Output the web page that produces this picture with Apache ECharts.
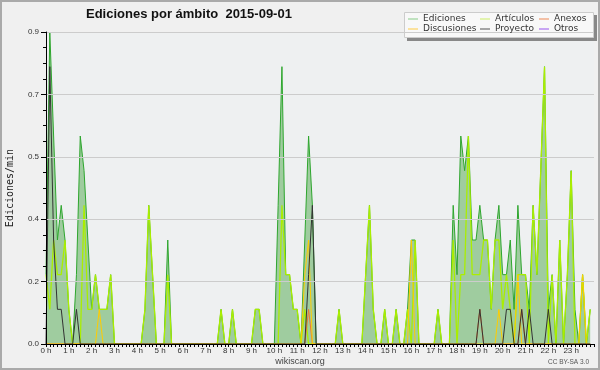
<!DOCTYPE html>
<html>
<head>
<meta charset="utf-8">
<script src="https://cdn.jsdelivr.net/npm/echarts@6/dist/echarts.min.js"></script>
<style>html,body{margin:0;padding:0;background:#f0f0f0}#c{width:600px;height:370px}</style>
</head>
<body>
<div id="c"></div>
<script>
// 10-minute bins, 144 per day (edits per minute)
var ediciones = [
0.2,0.9,0.6,0.3,0.4,0.3,0.1,0,0.2,0.6,
0.5,0.3,0.1,0.2,0.1,0.1,0.1,0.2,0,0,
0,0,0,0,0,0,0.1,0.4,0.2,0,
0,0,0.3,0,0,0,0,0,0,0,
0,0,0,0,0,0,0.1,0,0,0.1,
0,0,0,0,0,0.1,0.1,0,0,0,
0,0.4,0.8,0.2,0.2,0.1,0.1,0,0.3,0.6,
0.4,0,0,0,0,0,0,0.1,0,0,
0,0,0,0,0.2,0.4,0.1,0,0,0.1,
0,0,0.1,0,0,0.1,0.3,0.3,0,0,
0,0,0,0.1,0,0,0,0.4,0.2,0.6,
0.5,0.6,0.3,0.3,0.4,0.3,0.3,0.1,0.3,0.4,
0.2,0.2,0.3,0.1,0.4,0.2,0.2,0.1,0.4,0.2,
0.5,0.8,0.1,0.2,0,0.3,0,0.2,0.5,0.1,
0,0.2,0,0.1
];
var articulos = [
0.2,0.1,0.3,0.2,0.2,0.3,0.1,0,0,0,
0.4,0.1,0.1,0.2,0.1,0.1,0.1,0.2,0,0,
0,0,0,0,0,0,0.1,0.4,0.2,0,
0,0,0.2,0,0,0,0,0,0,0,
0,0,0,0,0,0,0.1,0,0,0.1,
0,0,0,0,0,0.1,0.1,0,0,0,
0,0,0.4,0.2,0.2,0.1,0.1,0,0.1,0,
0,0,0,0,0,0,0,0.1,0,0,
0,0,0,0,0.2,0.4,0.1,0,0,0.1,
0,0,0.1,0,0,0.1,0,0.3,0,0,
0,0,0,0.1,0,0,0,0.3,0,0.2,
0.2,0.6,0.2,0.2,0.2,0.3,0.3,0.1,0.3,0.3,
0.1,0.2,0.1,0,0.2,0.2,0.2,0,0.4,0.2,
0.5,0.8,0,0.2,0,0.3,0,0.2,0.5,0,
0,0.2,0,0.1
];
var anexos = [
0,0,0,0,0,0,0,0,0,0,
0,0,0,0,0,0,0,0,0,0,
0,0,0,0,0,0,0,0,0,0,
0,0,0,0,0,0,0,0,0,0,
0,0,0,0,0,0,0,0,0,0,
0,0,0,0,0,0,0,0,0,0,
0,0,0,0,0,0,0,0,0,0.1,
0,0,0,0,0,0,0,0,0,0,
0,0,0,0,0,0,0,0,0,0,
0,0,0,0,0,0,0,0,0,0,
0,0,0,0,0,0,0,0,0,0,
0,0,0,0,0.1,0,0,0,0,0,
0,0,0,0,0,0.1,0,0,0,0,
0,0,0,0,0,0,0,0,0,0,
0,0,0,0
];
var discusiones = [
0,0,0,0,0,0,0,0,0,0,
0,0,0,0,0.1,0,0,0,0,0,
0,0,0,0,0,0,0,0,0,0,
0,0,0,0,0,0,0,0,0,0,
0,0,0,0,0,0,0,0,0,0,
0,0,0,0,0,0,0,0,0,0,
0,0,0,0,0,0,0,0,0.2,0.3,
0,0,0,0,0,0,0,0,0,0,
0,0,0,0,0,0,0,0,0,0,
0,0,0,0,0,0,0.3,0,0,0,
0,0,0,0,0,0,0,0,0,0,
0,0,0,0,0,0,0,0,0,0.1,
0,0,0,0,0.2,0,0,0,0,0,
0,0,0,0,0,0,0,0,0,0,
0,0.2,0,0
];
var proyecto = [
0,0.8,0.3,0.1,0.1,0,0,0,0.1,0,
0,0,0,0,0,0,0,0,0,0,
0,0,0,0,0,0,0,0,0,0,
0,0,0,0,0,0,0,0,0,0,
0,0,0,0,0,0,0,0,0,0,
0,0,0,0,0,0,0,0,0,0,
0,0,0,0,0,0,0,0,0,0.2,
0.4,0,0,0,0,0,0,0,0,0,
0,0,0,0,0,0,0,0,0,0,
0,0,0,0,0,0,0,0,0,0,
0,0,0,0,0,0,0,0,0,0,
0,0,0,0,0.1,0,0,0,0,0,
0,0.1,0.1,0,0,0.1,0,0.1,0,0,
0,0,0.1,0,0,0,0,0,0,0,
0,0,0,0
];
var otros = [
0,0,0,0,0,0,0,0,0,0,
0,0,0,0,0,0,0,0,0,0,
0,0,0,0,0,0,0,0,0,0,
0,0,0,0,0,0,0,0,0,0,
0,0,0,0,0,0,0,0,0,0,
0,0,0,0,0,0,0,0,0,0,
0,0,0,0,0,0,0,0,0,0,
0,0,0,0,0,0,0,0,0,0,
0,0,0,0,0,0,0,0,0,0,
0,0,0,0,0,0,0,0,0,0,
0,0,0,0,0,0,0,0,0,0,
0,0,0,0,0,0,0,0,0,0,
0,0,0,0,0,0,0,0,0,0,
0,0,0,0,0,0,0,0,0,0,
0,0,0,0
];
var binsPerHour = 6;
var yTickStep = 0.18;
var titleText = 'Ediciones por ámbito  2015-09-01';

function toXY(arr){ return arr.map(function(v,i){ return [i/binsPerHour, v]; }); }

var chart = echarts.init(document.getElementById('c'), null, {renderer:'canvas'});
var lab = {fontFamily:'Liberation Sans', fontSize:8, color:'#333'};
function lineSeries(name, data, color, width, z){
  return {name:name, type:'line', data:toXY(data), symbol:'none', z:z,
    lineStyle:{color:color, width:width}, itemStyle:{color:color}, animation:false};
}
var legText = {fontFamily:'DejaVu Sans', fontSize:9, color:'#333', lineHeight:10};
function leg(left, items){
  return {left:left, top:14, orient:'vertical', padding:0, itemGap:0, itemWidth:10, itemHeight:1,
    icon:'rect', selectedMode:false, textStyle:legText, z:10,
    data: items.map(function(it){ return {name:it[0], itemStyle:{color:it[1]}}; })};
}
var option = {
  backgroundColor:'#f0f0f0',
  animation:false,
  grid:{left:46, right:6, top:32, bottom:26, containLabel:false, outerBoundsMode:'none',
    show:true, backgroundColor:'#eef0f1', borderWidth:0},
  xAxis:{type:'value', min:0, max:24, interval:1, z:10,
    axisLine:{show:true, onZero:false, lineStyle:{color:'#000', width:1}},
    axisTick:{show:true, length:3, lineStyle:{color:'#000'}},
    minorTick:{show:true, splitNumber:6, length:3, lineStyle:{color:'#000'}},
    splitLine:{show:false},
    axisLabel:Object.assign({margin:3, showMaxLabel:false, formatter:function(v){return v+' h';}}, lab)
  },
  yAxis:{type:'value', min:0, max:0.9, interval:yTickStep, z:10,
    name:'Ediciones/min', nameLocation:'middle', nameGap:31, nameRotate:90,
    nameTextStyle:{fontFamily:'DejaVu Sans Mono', fontSize:10, color:'#222'},
    axisLine:{show:true, onZero:false, lineStyle:{color:'#000', width:1}},
    axisTick:{show:true, length:5, lineStyle:{color:'#000'}},
    minorTick:{show:true, splitNumber:4, length:3, lineStyle:{color:'#000'}},
    splitLine:{show:true, lineStyle:{color:'#cccccc', width:1}},
    axisLabel:Object.assign({margin:7, formatter:function(v){return v.toFixed(1);}}, lab)
  },
  legend:[
    leg(408, [['Ediciones','#88cc88'],['Discusiones','#ffcc44']]),
    leg(480, [['Artículos','#ccee66'],['Proyecto','#555555']]),
    leg(539, [['Anexos','#ee8855'],['Otros','#9955ee']])
  ],
  series:[
    Object.assign(lineSeries('Ediciones', ediciones, '#2ea62e', 1, 2), {areaStyle:{color:'#9fcc9f', opacity:1}}),
    lineSeries('Artículos', articulos, '#aaee00', 1.3, 3),
    lineSeries('Anexos', anexos, '#ee7733', 1, 4),
    lineSeries('Discusiones', discusiones, '#ffcc00', 1, 5),
    lineSeries('Proyecto', proyecto, '#333333', 1, 6),
    lineSeries('Otros', otros, '#9933ff', 1, 1)
  ],
  graphic:[
    {type:'rect', z:0, shape:{x:1, y:1, width:598, height:368}, style:{fill:'none', stroke:'#aaaaaa', lineWidth:2}},
    {type:'text', z:5, x:86, y:14, style:{text:titleText, font:'bold 13px "Liberation Sans"', fill:'#111', textAlign:'left', textVerticalAlign:'middle'}},
    {type:'rect', z:5, shape:{x:407, y:15, width:190, height:26}, style:{fill:'#888888'}},
    {type:'rect', z:6, shape:{x:404.5, y:12.5, width:189, height:25}, style:{fill:'#f8f8f8', stroke:'#cccccc', lineWidth:1}},
    {type:'text', z:5, x:300, y:361.5, style:{text:'wikiscan.org', font:'9px "Liberation Sans"', fill:'#444', textAlign:'center', textVerticalAlign:'middle'}},
    {type:'text', z:5, x:589, y:362.5, style:{text:'CC BY-SA 3.0', font:'6.5px "Liberation Sans"', fill:'#555', textAlign:'right', textVerticalAlign:'middle'}}
  ]
};
chart.setOption(option);
</script>
</body>
</html>
